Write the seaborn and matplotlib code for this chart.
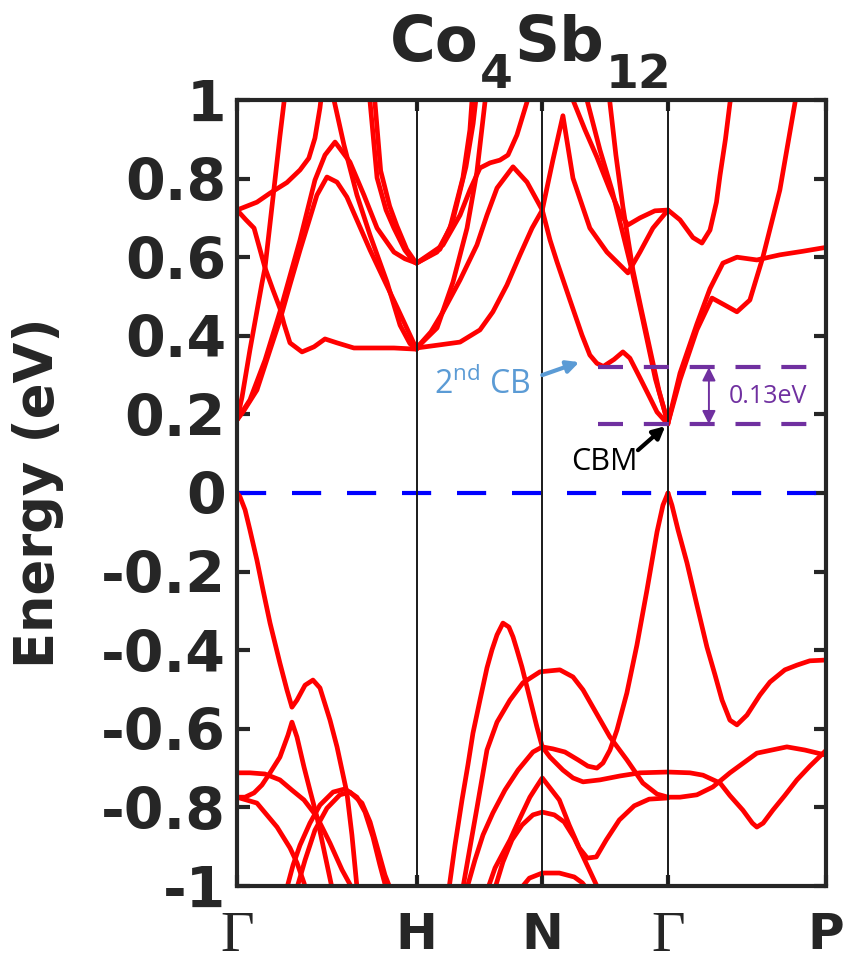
import numpy as np
import pandas as pd
import matplotlib
matplotlib.use("Agg")
import matplotlib.pyplot as plt
import seaborn as sns

# ---- high symmetry points on the k-path ----
kpt_labels = ['Γ', 'H', 'N', 'Γ', 'P']
kpt_pos = [0.0, 1.0, 1.70, 2.40, 3.28]

ytick_vals = [-1, -0.8, -0.6, -0.4, -0.2, 0, 0.2, 0.4, 0.6, 0.8, 1]
ytick_text = ['-1', '-0.8', '-0.6', '-0.4', '-0.2', '0', '0.2', '0.4', '0.6', '0.8', '1']

# ---- conduction bands (k, E in eV) ----
c1_k = [0, 0.111, 0.184, 0.278, 0.351, 0.40, 0.434, 0.462, 0.475]
c1_E = [0.72, 0.74, 0.763, 0.79, 0.822, 0.852, 0.903, 0.98, 1.03]
c2_k = [0, 0.05, 0.095, 0.156, 0.20, 0.239, 0.262, 0.295, 0.362, 0.429, 0.49, 0.557, 0.651, 0.741, 0.874, 1.0]
c2_E = [0.72, 0.695, 0.674, 0.573, 0.517, 0.47, 0.43, 0.382, 0.359, 0.372, 0.392, 0.382, 0.369, 0.369, 0.369, 0.366]
c3_k = [0, 0.028, 0.072, 0.139, 0.156, 0.20, 0.239, 0.262, 0.273]
c3_E = [0.186, 0.244, 0.364, 0.534, 0.573, 0.75, 0.908, 0.995, 1.04]
c4a_k = [0, 0.039, 0.111, 0.184, 0.239, 0.295, 0.351, 0.406, 0.445, 0.501, 0.557, 0.612, 0.741, 0.891, 1.0]
c4a_E = [0.186, 0.21, 0.262, 0.364, 0.44, 0.53, 0.618, 0.70, 0.758, 0.804, 0.791, 0.753, 0.618, 0.473, 0.366]
c4b_k = [0, 0.072, 0.156, 0.239, 0.351, 0.434, 0.49, 0.546, 0.629, 0.707, 0.780, 0.874, 0.935, 1.0]
c4b_E = [0.186, 0.237, 0.338, 0.461, 0.644, 0.796, 0.86, 0.893, 0.842, 0.758, 0.674, 0.613, 0.596, 0.585]
c5_k = [0.523, 0.540, 0.596, 0.668, 0.741, 0.835, 0.908, 0.963, 1.0]
c5_E = [1.03, 1.0, 0.885, 0.758, 0.656, 0.537, 0.427, 0.38, 0.366]
c6a_k = [0.729, 0.741, 0.780, 0.830, 0.874, 0.935, 0.986, 1.0]
c6a_E = [1.03, 0.995, 0.802, 0.72, 0.674, 0.618, 0.588, 0.585]
c6b_k = [0.757, 0.768, 0.80, 0.85, 0.89, 0.945, 0.99, 1.0]
c6b_E = [1.03, 0.995, 0.82, 0.73, 0.68, 0.62, 0.59, 0.585]

h1a_k = [1.0, 1.114, 1.186, 1.258, 1.297, 1.308, 1.32]
h1a_E = [0.585, 0.613, 0.674, 0.802, 0.924, 0.995, 1.03]
h1b_k = [1.0, 1.13, 1.20, 1.275, 1.315, 1.33, 1.34]
h1b_E = [0.585, 0.62, 0.69, 0.83, 0.94, 1.0, 1.03]
h2_k = [1.0, 1.147, 1.242, 1.297, 1.353, 1.409, 1.464, 1.509, 1.559, 1.615, 1.631]
h2_E = [0.585, 0.631, 0.707, 0.771, 0.827, 0.84, 0.847, 0.860, 0.911, 0.995, 1.03]
h3_k = [1.0, 1.114, 1.203, 1.281, 1.336, 1.381, 1.392]
h3_E = [0.369, 0.42, 0.537, 0.674, 0.817, 0.995, 1.03]
h4_k = [1.0, 1.08, 1.147, 1.242, 1.336, 1.392, 1.448, 1.537, 1.615, 1.70]
h4_E = [0.369, 0.41, 0.461, 0.542, 0.631, 0.707, 0.776, 0.830, 0.791, 0.72]
h5_k = [1.0, 1.13, 1.242, 1.353, 1.425, 1.503, 1.576, 1.643, 1.70]
h5_E = [0.369, 0.377, 0.384, 0.415, 0.461, 0.529, 0.606, 0.674, 0.72]

n1_k = [1.70, 1.759, 1.815, 1.871, 1.965, 2.06, 2.133, 2.177, 2.244, 2.316, 2.40]
n1_E = [0.72, 0.847, 0.96, 0.801, 0.674, 0.613, 0.58, 0.56, 0.613, 0.674, 0.72]
n2_k = [1.854, 1.871, 1.938, 2.004, 2.077, 2.133, 2.177, 2.244, 2.327, 2.40]
n2_E = [1.03, 1.0, 0.924, 0.855, 0.771, 0.712, 0.682, 0.70, 0.718, 0.72]
n3_k = [1.938, 1.949, 2.021, 2.088, 2.144, 2.199, 2.26, 2.33, 2.40]
n3_E = [1.03, 1.0, 0.873, 0.771, 0.669, 0.567, 0.44, 0.29, 0.178]
n4_k = [2.07, 2.077, 2.11, 2.149, 2.205, 2.25, 2.30, 2.35, 2.40]
n4_E = [1.03, 0.992, 0.86, 0.728, 0.567, 0.47, 0.365, 0.26, 0.178]
n5_k = [1.70, 1.743, 1.782, 1.854, 1.921, 1.965, 2.004, 2.04, 2.10, 2.149, 2.188, 2.244, 2.30, 2.339, 2.40]
n5_E = [0.72, 0.644, 0.588, 0.491, 0.402, 0.351, 0.33, 0.322, 0.34, 0.359, 0.343, 0.293, 0.242, 0.206, 0.175]

p1_k = [2.40, 2.467, 2.539, 2.589, 2.634, 2.67, 2.69, 2.72, 2.745, 2.76]
p1_E = [0.72, 0.695, 0.65, 0.636, 0.669, 0.74, 0.809, 0.90, 0.992, 1.03]
p2_k = [2.40, 2.467, 2.561, 2.634, 2.706, 2.784, 2.895, 3.023, 3.15, 3.28]
p2_E = [0.178, 0.305, 0.43, 0.52, 0.585, 0.60, 0.593, 0.606, 0.615, 0.625]
p3_k = [2.40, 2.467, 2.561, 2.645, 2.717, 2.784, 2.856, 2.929, 3.023, 3.107, 3.118]
p3_E = [0.178, 0.288, 0.415, 0.496, 0.478, 0.461, 0.491, 0.601, 0.771, 0.992, 1.025]

# ---- valence bands ----
v1_k = [0, 0.017, 0.045, 0.072, 0.111, 0.145, 0.184, 0.239, 0.278, 0.306, 0.334, 0.379, 0.423, 0.462, 0.518, 0.557, 0.612, 0.64, 0.668, 0.68]
v1_E = [0, -0.01, -0.043, -0.094, -0.171, -0.247, -0.331, -0.433, -0.501, -0.545, -0.527, -0.489, -0.476, -0.496, -0.578, -0.646, -0.763, -0.87, -1.003, -1.04]
v2_k = [0, 0.045, 0.095, 0.139, 0.184, 0.239, 0.284, 0.306, 0.334, 0.373, 0.406, 0.445, 0.484, 0.529]
v2_E = [-0.774, -0.774, -0.763, -0.743, -0.712, -0.672, -0.616, -0.583, -0.621, -0.697, -0.756, -0.824, -0.908, -1.005]
v3_k = [0, 0.072, 0.156, 0.239, 0.306, 0.373, 0.445, 0.518, 0.585, 0.64]
v3_E = [-0.712, -0.712, -0.715, -0.730, -0.756, -0.781, -0.824, -0.891, -0.959, -1.005]
v4_k = [0, 0.111, 0.223, 0.295, 0.334, 0.373, 0.384]
v4_E = [-0.774, -0.789, -0.85, -0.903, -0.941, -0.992, -1.01]
v5a_k = [0.278, 0.312, 0.351, 0.406, 0.462, 0.535, 0.601, 0.668, 0.713, 0.757, 0.796, 0.830]
v5a_E = [-1.005, -0.947, -0.896, -0.84, -0.794, -0.761, -0.753, -0.774, -0.812, -0.875, -0.947, -1.005]
v5b_k = [0.334, 0.379, 0.434, 0.501, 0.573, 0.629, 0.696, 0.741, 0.785, 0.824, 0.852]
v5b_E = [-1.005, -0.934, -0.858, -0.802, -0.768, -0.761, -0.789, -0.837, -0.908, -0.972, -1.005]

w1_k = [1.181, 1.214, 1.253, 1.286, 1.314, 1.353, 1.392, 1.420, 1.448, 1.481, 1.514, 1.537, 1.559, 1.587, 1.615, 1.643, 1.670, 1.70,
        1.743, 1.815, 1.871, 1.927, 2.021, 2.133, 2.244, 2.40, 2.522, 2.595, 2.69, 2.745, 2.817, 2.87, 2.895, 2.93, 2.984, 3.05, 3.118, 3.19, 3.28]
w1_E = [-1.005, -0.896, -0.781, -0.692, -0.611, -0.527, -0.445, -0.399, -0.361, -0.331, -0.341, -0.366, -0.399, -0.443, -0.494, -0.545, -0.595, -0.646,
        -0.672, -0.705, -0.725, -0.735, -0.730, -0.720, -0.712, -0.710, -0.712, -0.718, -0.738, -0.77, -0.807, -0.84, -0.85, -0.84, -0.807, -0.77, -0.730, -0.695, -0.655]
w2_k = [1.258, 1.297, 1.336, 1.392, 1.448, 1.52, 1.592, 1.687, 1.798, 1.871, 1.927, 1.982, 2.077, 2.171, 2.26, 2.339, 2.40,
        2.467, 2.561, 2.65, 2.745, 2.895, 3.062, 3.162, 3.28]
w2_E = [-1.005, -0.903, -0.802, -0.654, -0.583, -0.527, -0.483, -0.455, -0.45, -0.468, -0.501, -0.545, -0.621, -0.679, -0.738, -0.766, -0.774,
        -0.774, -0.768, -0.748, -0.712, -0.662, -0.646, -0.654, -0.667]
vt_k = [2.40, 2.422, 2.456, 2.506, 2.561, 2.617, 2.662, 2.701, 2.745, 2.784, 2.840, 2.912, 2.968, 3.051, 3.118, 3.190, 3.28]
vt_E = [0, -0.031, -0.094, -0.178, -0.285, -0.392, -0.463, -0.527, -0.578, -0.590, -0.565, -0.514, -0.481, -0.450, -0.438, -0.427, -0.425]
vl_k = [2.40, 2.372, 2.339, 2.283, 2.227, 2.171, 2.116, 2.077, 2.038, 2.004, 1.954, 1.899, 1.826, 1.759, 1.70]
vl_E = [0, -0.031, -0.099, -0.247, -0.387, -0.509, -0.603, -0.654, -0.687, -0.70, -0.695, -0.679, -0.659, -0.651, -0.646]
w3_k = [1.281, 1.325, 1.370, 1.425, 1.492, 1.565, 1.648, 1.70]
w3_E = [-1.005, -0.934, -0.870, -0.814, -0.756, -0.705, -0.659, -0.646]
w4_k = [1.398, 1.437, 1.481, 1.520, 1.576, 1.631, 1.670, 1.70, 1.739, 1.795, 1.850, 1.906, 1.951, 2.001, 2.056, 2.129, 2.212, 2.295, 2.40]
w4_E = [-1.005, -0.954, -0.916, -0.883, -0.827, -0.774, -0.746, -0.725, -0.748, -0.781, -0.845, -0.903, -0.929, -0.926, -0.883, -0.832, -0.796, -0.779, -0.776]
w5_k = [1.437, 1.481, 1.531, 1.587, 1.648, 1.70, 1.767, 1.822, 1.878, 1.923, 1.962, 2.001, 2.029]
w5_E = [-1.005, -0.939, -0.883, -0.845, -0.819, -0.812, -0.819, -0.837, -0.878, -0.921, -0.959, -0.997, -1.023]
w6_k = [1.583, 1.628, 1.70, 1.795, 1.878, 1.923, 1.945]
w6_E = [-1.005, -0.980, -0.967, -0.967, -0.977, -0.992, -1.005]

# ---- annotation values ----
cbm_E = 0.175
cb2_E = 0.32
gap_text = '0.13eV'

bands = {
    'c1': (c1_k, c1_E), 'c2': (c2_k, c2_E), 'c3': (c3_k, c3_E), 'c4a': (c4a_k, c4a_E),
    'c4b': (c4b_k, c4b_E), 'c5': (c5_k, c5_E), 'c6a': (c6a_k, c6a_E), 'c6b': (c6b_k, c6b_E),
    'h1a': (h1a_k, h1a_E), 'h1b': (h1b_k, h1b_E), 'h2': (h2_k, h2_E), 'h3': (h3_k, h3_E),
    'h4': (h4_k, h4_E), 'h5': (h5_k, h5_E),
    'n1': (n1_k, n1_E), 'n2': (n2_k, n2_E), 'n3': (n3_k, n3_E), 'n4': (n4_k, n4_E), 'n5': (n5_k, n5_E),
    'p1': (p1_k, p1_E), 'p2': (p2_k, p2_E), 'p3': (p3_k, p3_E),
    'v1': (v1_k, v1_E), 'v2': (v2_k, v2_E), 'v3': (v3_k, v3_E), 'v4': (v4_k, v4_E),
    'v5a': (v5a_k, v5a_E), 'v5b': (v5b_k, v5b_E),
    'w1': (w1_k, w1_E), 'w2': (w2_k, w2_E), 'vt': (vt_k, vt_E), 'vl': (vl_k, vl_E),
    'w3': (w3_k, w3_E), 'w4': (w4_k, w4_E), 'w5': (w5_k, w5_E), 'w6': (w6_k, w6_E),
}
df = pd.concat([pd.DataFrame({'k': k, 'E': e, 'band': name}) for name, (k, e) in bands.items()],
               ignore_index=True)

# ---- style ----
sns.set_style("white")
plt.rcParams['font.family'] = ['DejaVu Sans']
plt.rcParams['axes.unicode_minus'] = False
plt.rcParams['mathtext.fontset'] = 'custom'
plt.rcParams['mathtext.rm'] = 'Open Sans'
plt.rcParams['mathtext.bf'] = 'DejaVu Sans:bold'

fig = plt.figure(figsize=(8.43, 9.64), dpi=100)
ax = fig.add_axes([237 / 843, 78 / 964, 589 / 843, 786 / 964])

ax.axhline(0, color='#0000FF', lw=3, dashes=(7, 6.2), zorder=1.5)
sns.lineplot(data=df, x='k', y='E', units='band', estimator=None, sort=False,
             color='#FF0000', lw=3.4, ax=ax, legend=False, zorder=2,
             solid_joinstyle='round', solid_capstyle='round')
for x in kpt_pos[1:-1]:
    ax.axvline(x, color='#1a1a1a', lw=1.4, zorder=3)

# gap markers
ax.hlines([cb2_E, cbm_E], 2.01, 3.20, color='#7030A0', lw=3, linestyles=(0, (6, 5)), zorder=4)
ax.annotate('', xy=(2.628, cbm_E), xytext=(2.628, cb2_E),
            arrowprops=dict(arrowstyle='<|-|>', color='#7030A0', lw=1.4,
                            mutation_scale=20, shrinkA=0, shrinkB=0), zorder=5)
ax.text(2.957, 0.245, gap_text, color='#7030A0', fontsize=18, family='Open Sans',
        ha='center', va='center')

ax.annotate('', xy=(2.385, 0.17), xytext=(2.233, 0.109),
            arrowprops=dict(arrowstyle='-|>', color='black', lw=3, mutation_scale=18,
                            shrinkA=0, shrinkB=0), zorder=5)
ax.text(2.044, 0.079, 'CBM', color='black', fontsize=22, family='Open Sans',
        ha='center', va='center')

ax.annotate('', xy=(1.906, 0.333), xytext=(1.70, 0.30),
            arrowprops=dict(arrowstyle='-|>', color='#5B9BD5', lw=3, mutation_scale=18,
                            shrinkA=0, shrinkB=0), zorder=5)
ax.text(1.366, 0.275, r'2$^{\mathrm{nd}}$ CB', color='#5B9BD5', fontsize=23,
        family='Open Sans', ha='center', va='center')

# axes
ax.set_xlim(kpt_pos[0], kpt_pos[-1])
ax.set_ylim(-1, 1)
ax.set_yticks(ytick_vals)
ax.set_yticklabels(ytick_text, fontsize=41, fontweight='bold')
ax.set_xticks(kpt_pos)
ax.set_xticklabels(kpt_labels, fontsize=36, fontweight='bold')
for lbl in ax.get_xticklabels():
    if lbl.get_text() == 'Γ':
        lbl.set_fontfamily('Liberation Serif')
        lbl.set_fontweight('normal')
        lbl.set_fontsize(42)
ax.tick_params(axis='y', direction='in', length=9, width=3, left=True, right=True, pad=8)
ax.tick_params(axis='x', direction='in', length=8, width=3, top=True, bottom=True, pad=18)
for s in ax.spines.values():
    s.set_linewidth(3)
    s.set_color('#262626')
    s.set_zorder(6)

ax.set_xlabel('')
ax.set_ylabel('Energy (eV)', fontsize=38, fontweight='bold')
ax.yaxis.set_label_coords(-0.293, 0.5)

# title Co4Sb12 with large, well lowered subscripts
t_co = fig.text(390 / 843, 1 - 61 / 964, 'Co', fontsize=45, fontweight='bold', ha='left', va='baseline')
t_4 = ax.annotate('4', xy=(1, 0), xycoords=t_co, xytext=(1, -17.5), textcoords='offset points',
                  fontsize=34, fontweight='bold', ha='left', va='bottom', annotation_clip=False)
t_sb = ax.annotate('Sb', xy=(1, 0), xycoords=(t_4, t_co), xytext=(1, 0), textcoords='offset points',
                   fontsize=45, fontweight='bold', ha='left', va='bottom', annotation_clip=False)
ax.annotate('12', xy=(1, 0), xycoords=(t_sb, t_4), xytext=(1, 0), textcoords='offset points',
            fontsize=34, fontweight='bold', ha='left', va='bottom', annotation_clip=False)

fig.savefig('out.png', dpi=100)
